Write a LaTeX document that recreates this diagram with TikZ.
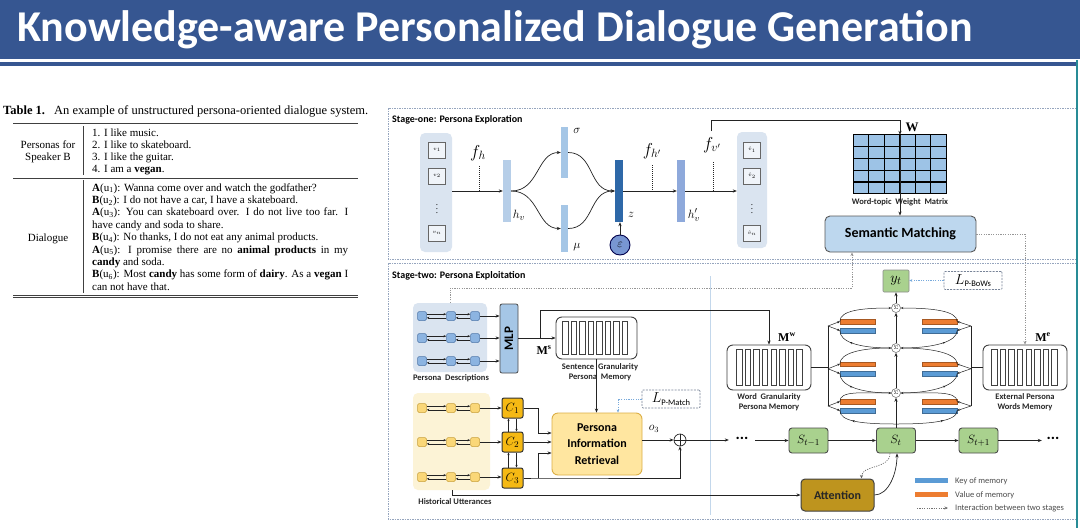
\documentclass[tikz,border=0pt]{standalone}
\usepackage{fontspec}
\setmainfont{Liberation Serif}
\newfontfamily\calib{Carlito}
\usetikzlibrary{arrows.meta,calc,decorations.markings}
\definecolor{titleblue}{RGB}{54,86,145}
\definecolor{tealline}{RGB}{40,140,150}
\definecolor{framec}{RGB}{150,165,190}
\definecolor{panelb}{RGB}{218,228,240}
\definecolor{panely}{RGB}{252,243,214}
\definecolor{smblue}{RGB}{189,215,238}
\definecolor{matblue}{RGB}{157,195,230}
\definecolor{hvone}{RGB}{182,206,232}
\definecolor{sigc}{RGB}{165,198,230}
\definecolor{zc}{RGB}{46,104,168}
\definecolor{hvtwo}{RGB}{142,169,219}
\definecolor{epsc}{RGB}{120,150,210}
\definecolor{pirfill}{RGB}{255,230,160}
\definecolor{pirdraw}{RGB}{220,175,70}
\definecolor{cgold}{RGB}{245,185,20}
\definecolor{sgreen}{RGB}{169,209,142}
\definecolor{attc}{RGB}{190,148,30}
\definecolor{valc}{RGB}{237,125,49}
\definecolor{keyc}{RGB}{91,155,213}
\definecolor{dotc}{RGB}{150,150,150}
\definecolor{lossc}{RGB}{120,170,220}
\definecolor{sepc}{RGB}{195,215,235}
\definecolor{linec}{RGB}{35,35,35}
\definecolor{sqb}{RGB}{140,180,225}
\definecolor{sqbd}{RGB}{80,120,170}
\definecolor{sqy}{RGB}{250,215,120}
\definecolor{sqyd}{RGB}{200,160,60}
\newcommand\memslots[4]{\foreach \i in {0,...,7}{\draw[black!75,line width=0.6pt] ($(#1.west)+(#2+\i*#3,-#4)$) rectangle ++(5.4,2*#4);}}
\newcommand\bigdots{{\calib\bfseries\fontsize{16}{16}\selectfont...}}
\begin{document}
\begin{tikzpicture}[x=1pt,y=-1pt,
  ln/.style={draw=linec,line width=0.7pt},
  arr/.style={ln,-{Stealth[length=4pt,width=3.2pt]}},
  sarr/.style={draw=linec,line width=0.5pt,-{Stealth[length=2.6pt,width=2.2pt]}},
  dashv/.style={draw=linec,line width=0.5pt,dash pattern=on 1pt off 1pt},
  dotl/.style={draw=dotc,line width=0.6pt,dash pattern=on 1.2pt off 1.2pt},
  dotarr/.style={dotl,-{Stealth[length=3.5pt,width=3pt]}},
  lossarr/.style={draw=lossc,line width=0.6pt,dash pattern=on 1.2pt off 1.2pt,-{Stealth[length=3pt,width=2.6pt]}},
  stageframe/.style={draw=framec,line width=0.6pt,dash pattern=on 1.5pt off 1pt},
  tab/.style={anchor=base west,inner sep=0,font=\fontsize{11}{12}\selectfont},
  tabc/.style={anchor=base,inner sep=0,font=\fontsize{11}{12}\selectfont},
  lab/.style={font=\calib\bfseries\fontsize{8.5}{9.5}\selectfont,text=black!85,align=center,inner sep=0},
  bar/.style={inner sep=0,minimum width=8,minimum height=62},
  vbox/.style={draw=black!60,fill=white!60!panelb,minimum width=17,minimum height=16,inner sep=0,font=\fontsize{5.5}{5.5}\selectfont},
  panel/.style={rounded corners=5pt,inner sep=0},
  sq/.style={minimum size=9,inner sep=0,rounded corners=1.5pt,line width=0.5pt},
  cbox/.style={draw=black!80,fill=cgold,line width=1pt,rounded corners=2pt,minimum width=21,minimum height=20,inner sep=0,font=\fontsize{13}{13}\selectfont},
  sbox/.style={draw=black!70,fill=sgreen,line width=0.9pt,rounded corners=3pt,minimum width=39,minimum height=25,inner sep=0,font=\fontsize{13}{13}\selectfont},
  mem/.style={draw=black!75,fill=white,line width=0.9pt,rounded corners=6pt,inner sep=0},
  kbar/.style={fill=keyc,draw=keyc!70!black,line width=0.3pt,inner sep=0,minimum width=35,minimum height=4.5},
  vbar/.style={fill=valc,draw=valc!70!black,line width=0.3pt,inner sep=0,minimum width=35,minimum height=4.5},
  sumc/.style={circle,draw=black!60,fill=white,line width=0.5pt,minimum size=9,inner sep=0},
  lossbox/.style={draw=framec!80!black,dash pattern=on 2pt off 1.2pt,line width=0.7pt,rounded corners=1pt,minimum width=58,minimum height=18,inner sep=0},
  midarr/.style={postaction={decorate},decoration={markings,mark=at position #1 with {\arrow{Stealth[length=2.6pt,width=2.2pt]}}}},
  mlab/.style={font=\fontsize{17}{17}\selectfont,inner sep=0}
]
\useasboundingbox (0,0) rectangle (1080,528);
\fill[white] (0,0) rectangle (1080,528);
% ---------- title ----------
\fill[titleblue] (0,0) rectangle (1080,59);
\fill[titleblue] (0,61.5) rectangle (1080,66);
\node[anchor=base west,inner sep=0,text=white,font=\calib\bfseries\fontsize{44}{44}\selectfont] (title) at (17,41.5) {Knowledge-aware Personalized Dialogue Generation};
% ---------- table ----------
\node[anchor=base west,inner sep=0,font=\fontsize{12.5}{13}\selectfont] (cap) at (3,114) {\textbf{Table 1.}\hspace{9pt}An example of unstructured persona-oriented dialogue system.};
\draw[black!75,line width=0.8pt] (13,123) -- (358,123);
\draw[black!75,line width=0.6pt] (13,178) -- (358,178);
\draw[black!75,line width=0.6pt] (13,295) -- (358,295);
\draw[black!75,line width=0.6pt] (13,297.5) -- (358,297.5);
\draw[black!75,line width=0.6pt] (83.5,126) -- (83.5,175);
\draw[black!75,line width=0.6pt] (83.5,180) -- (83.5,293);
\node[tabc] (lpa) at (48,148) {Personas for};
\node[tabc] (lpb) at (48,160) {Speaker B};
\node[tabc] (ldg) at (48,241) {Dialogue};
\node[tab] (p1) at (92,136) {1. I like music.};
\node[tab] (p2) at (92,148) {2. I like to skateboard.};
\node[tab] (p3) at (92,160) {3. I like the guitar.};
\node[tab] (p4) at (92,172) {4. I am a \textbf{vegan}.};
\node[tab] (d1) at (92,191) {\textbf{A}(u\textsubscript{1}): Wanna come over and watch the godfather?};
\node[tab] (d2) at (92,203.4) {\textbf{B}(u\textsubscript{2}): I do not have a car, I have a skateboard.};
\node[tab] (d3) at (92,215.8) {\makebox[256pt][s]{\textbf{A}(u\textsubscript{3}): You can skateboard over. I do not live too far. I}};
\node[tab] (d4) at (92,228.2) {have candy and soda to share.};
\node[tab] (d5) at (92,240.6) {\textbf{B}(u\textsubscript{4}): No thanks, I do not eat any animal products.};
\node[tab] (d6) at (92,253) {\makebox[256pt][s]{\textbf{A}(u\textsubscript{5}): I promise there are no \textbf{animal products} in my}};
\node[tab] (d7) at (92,265.4) {\textbf{candy} and soda.};
\node[tab] (d8) at (92,277.8) {\makebox[256pt][s]{\textbf{B}(u\textsubscript{6}): Most \textbf{candy} has some form of \textbf{dairy}. As a \textbf{vegan} I}};
\node[tab] (d9) at (92,290.2) {can not have that.};
% ---------- frames ----------
\draw[stageframe] (388,108) rectangle (1076,259);
\draw[stageframe] (388,263) rectangle (1076,519);
\draw[sepc,line width=0.6pt] (710,276) -- (710,515);
\node[anchor=base west,inner sep=0,font=\calib\bfseries\fontsize{10}{10}\selectfont] (st1) at (392,122) {Stage-one: Persona Exploration};
\node[anchor=base west,inner sep=0,font=\calib\bfseries\fontsize{10}{10}\selectfont] (st2) at (392,278) {Stage-two: Persona Exploitation};
% ---------- stage one ----------
\node[panel,fill=panelb,minimum width=32,minimum height=119] (vin) at (436,192.5) {};
\node[vbox] (v1) at (437,150) {$v_1$};
\node[vbox] (v2) at (437,176) {$v_2$};
\node[font=\fontsize{9}{9}\selectfont,inner sep=0] (vd) at (437,206) {$\vdots$};
\node[vbox] (vn) at (437,233) {$v_n$};
\node[bar,fill=hvone] (hv) at (507,191) {};
\draw[arr] (vin.east |- hv.west) -- (hv.west);
\node[mlab] (fh) at (478,153) {$f_h$};
\draw[dashv] (479,166) -- (479,191);
\node[inner sep=0,font=\fontsize{13}{13}\selectfont] (hvl) at (519,215) {$h_v$};
\node[inner sep=0,minimum width=7,minimum height=51,fill=sigc] (sig) at (564.5,152.5) {};
\node[inner sep=0,minimum width=7,minimum height=47,fill=sigc] (mu) at (564.5,228.5) {};
\node[inner sep=0,font=\fontsize{13}{13}\selectfont] (sigl) at (577,131) {$\sigma$};
\node[inner sep=0,font=\fontsize{13}{13}\selectfont] (mul) at (577,247) {$\mu$};
\draw[arr] (hv.east) .. controls +(28,0) and +(-24,0) .. (sig.west);
\draw[arr] (hv.east) .. controls +(28,0) and +(-24,0) .. (mu.west);
\node[bar,fill=zc] (z) at (619,191) {};
\draw[arr] (sig.east) .. controls +(26,0) and +(-26,0) .. (z.west);
\draw[arr] (mu.east) .. controls +(26,0) and +(-26,0) .. (z.west);
\node[inner sep=0,font=\fontsize{13}{13}\selectfont] (zl) at (631,215) {$z$};
\node[circle,draw=black!70!blue,fill=epsc,line width=0.9pt,minimum size=20,inner sep=0,font=\fontsize{13}{13}\selectfont] (eps) at (620,245) {$\varepsilon$};
\draw[arr] (eps.north) -- (eps.north |- z.south);
\node[bar,fill=hvtwo] (hv2) at (681,191) {};
\draw[arr] (z.east) -- (hv2.west);
\node[mlab] (fhp) at (652,151) {$f_{h'}$};
\draw[dashv] (652,165) -- (652,191);
\node[inner sep=0,font=\fontsize{13}{13}\selectfont] (hv2l) at (694,215) {$h'_v$};
\node[panel,fill=panelb,minimum width=30,minimum height=116] (vout) at (752,190) {};
\node[vbox] (w1) at (752,150) {$\hat{v}_1$};
\node[vbox] (w2) at (752,176) {$\hat{v}_2$};
\node[font=\fontsize{9}{9}\selectfont,inner sep=0] (wd) at (752,206) {$\vdots$};
\node[vbox] (wn) at (752,233) {$\hat{v}_n$};
\draw[arr] (hv2.east) -- (vout.west |- hv2.east);
\node[mlab] (fv) at (712,145) {$f_{v'}$};
\draw[dashv] (713,162) -- (713,191);
% matrix
\node[fill=matblue,minimum width=93,minimum height=59,inner sep=0] (W) at (900,164.5) {};
\foreach \i in {0,...,6}{\draw[black,line width=1.1pt] ($(W.north west)+(\i*15.5,0)$) -- ($(W.south west)+(\i*15.5,0)$);}
\foreach \j in {0,...,5}{\draw[black,line width=1.1pt] ($(W.north west)+(0,\j*11.8)$) -- ($(W.north east)+(0,\j*11.8)$);}
\coordinate (fvtop) at (711,131);
\coordinate (wtop) at (900,120);
\draw[arr] (fvtop) |- (wtop) -- (W.north);
\draw[ln] (W.north) -- (W.south);
\node[inner sep=0,font=\bfseries\fontsize{13}{13}\selectfont] (Wl) at (912,127) {W};
\node[lab] (wtl) at (900,202) {Word-topic\ \ Weight\ \ Matrix};
\node[rounded corners=5pt,draw=black!65,fill=smblue,line width=0.9pt,minimum width=151,minimum height=36,font=\calib\bfseries\fontsize{14}{14}\selectfont] (sm) at (900.5,234) {Semantic Matching};
\draw[arr] (W.south) -- (sm.north -| W.south);
% ---------- stage two ----------
\node[panel,fill=panelb,minimum width=74,minimum height=69] (pdp) at (450,337.5) {};
\node[rounded corners=2pt,draw=black!70,fill=sigc,line width=0.8pt,minimum width=18,minimum height=69,inner sep=0] (mlp) at (509,338.5) {};
\node[rotate=90,inner sep=0,font=\calib\bfseries\fontsize{13}{13}\selectfont] (mlpt) at (mlp) {MLP};
\foreach \r/\y in {1/316,2/338,3/361}{
  \node[sq,fill=sqb,draw=sqbd] (pa\r) at (422,\y) {};
  \node[sq,fill=sqb,draw=sqbd] (pb\r) at (451,\y) {};
  \node[sq,fill=sqb,draw=sqbd] (pc\r) at (475,\y) {};
  \draw[sarr] ($(pa\r.east)+(0,-1.8)$) -- ($(pb\r.west)+(0,-1.8)$);
  \draw[sarr] ($(pb\r.west)+(0,1.8)$) -- ($(pa\r.east)+(0,1.8)$);
  \draw[sarr] ($(pb\r.east)+(0,-1.8)$) -- ($(pc\r.west)+(0,-1.8)$);
  \draw[sarr] ($(pc\r.west)+(0,1.8)$) -- ($(pb\r.east)+(0,1.8)$);
  \draw[arr] (pc\r.east) -- (mlp.west |- pc\r.east);
}
\node[lab] (pdl) at (451,378) {Persona\ \ Descriptions};
\node[mem,minimum width=81,minimum height=42] (sgm) at (596.5,338) {};
\memslots{sgm}{7}{8.5}{16.5}
\node[lab] (sgml) at (600,372) {Sentence\ \ Granularity\\Persona\ \ Memory};
\draw[arr] (mlp.east |- sgm.west) -- (sgm.west);
\node[inner sep=0,font=\bfseries\fontsize{12}{12}\selectfont] (Ms) at (544,350) {M\textsuperscript{s}};
\node[mem,minimum width=84,minimum height=45] (mw) at (769,367.5) {};
\memslots{mw}{10}{8.6}{18}
\node[lab] (mwl) at (769,402) {Word\ \ Granularity\\Persona Memory};
\node[inner sep=0,font=\bfseries\fontsize{12}{12}\selectfont] (Mw) at (787,337) {M\textsuperscript{w}};
\coordinate (br) at (540,339);
\coordinate (brt) at (540,310.5);
\draw[arr] (br) -- (brt) -| (mw.north);
\node[mem,minimum width=84,minimum height=45] (me) at (1025,367.5) {};
\memslots{me}{9}{8.6}{18}
\node[lab] (mel) at (1025,402) {External Persona\\Words Memory};
\node[inner sep=0,font=\bfseries\fontsize{12}{12}\selectfont] (Me) at (1043,337) {M\textsuperscript{e}};
% stage interaction
\coordinate (dj) at (852,288);
\draw[dotarr] (pdp.north) |- (dj) -- (sm.south -| dj);
\draw[dotarr] (sm.east) -| (me.north);
% historical utterances
\node[panel,fill=panely,minimum width=77,minimum height=97] (hup) at (451.5,441.5) {};
\node[cbox] (c1) at (512.5,408) {$C_1$};
\node[cbox] (c2) at (512.5,442) {$C_2$};
\node[cbox] (c3) at (512.5,478) {$C_3$};
\foreach \r/\y in {1/408,2/442,3/477}{
  \node[sq,fill=sqy,draw=sqyd] (ha\r) at (422,\y) {};
  \node[sq,fill=sqy,draw=sqyd] (hb\r) at (451,\y) {};
  \node[sq,fill=sqy,draw=sqyd] (hc\r) at (475,\y) {};
  \draw[sarr] ($(ha\r.east)+(0,-1.8)$) -- ($(hb\r.west)+(0,-1.8)$);
  \draw[sarr] ($(hb\r.west)+(0,1.8)$) -- ($(ha\r.east)+(0,1.8)$);
  \draw[sarr] ($(hb\r.east)+(0,-1.8)$) -- ($(hc\r.west)+(0,-1.8)$);
  \draw[sarr] ($(hc\r.west)+(0,1.8)$) -- ($(hb\r.east)+(0,1.8)$);
  \draw[arr] (hc\r.east) -- (c\r.west |- hc\r.east);
}
\draw[sarr] ($(c2.north)+(-4,0)$) -- ($(c1.south)+(-4,0)$);
\draw[sarr] ($(c1.south)+(4,0)$) -- ($(c2.north)+(4,0)$);
\draw[sarr] ($(c3.north)+(-4,0)$) -- ($(c2.south)+(-4,0)$);
\draw[sarr] ($(c2.south)+(4,0)$) -- ($(c3.north)+(4,0)$);
\node[lab] (hul) at (455,502) {Historical Utterances};
\node[rounded corners=6pt,draw=pirdraw,fill=pirfill,line width=0.9pt,minimum width=90,minimum height=62,inner sep=0,align=center,font=\calib\bfseries\fontsize{12}{16.5}\selectfont] (pir) at (597,444) {Persona\\Information\\Retrieval};
\draw[arr] (sgm.south) -- (pir.north -| sgm.south);
\coordinate (k1) at (538,408);
\coordinate (k3) at (538,478);
\draw[arr] (c1.east) -- (k1) |- ($(pir.west)+(0,-11)$);
\draw[arr] (c2.east) -- (c2.east -| pir.west);
\draw[arr] (k3) |- ($(pir.west)+(0,9)$);
\node[lossbox] (lpm) at (671,399) {{\fontsize{15}{15}\selectfont$L$}\raisebox{-2.5pt}{\calib\fontsize{8.5}{8.5}\selectfont P-Match}};
\draw[lossarr] (lpm.west) -| ($(pir.north)+(21,0)$);
\node[circle,draw=linec,line width=0.7pt,minimum size=12,inner sep=0] (op) at (680,440) {};
\draw[linec,line width=0.6pt] (op.north) -- (op.south) (op.west) -- (op.east);
\draw[arr] (pir.east |- op.west) -- (op.west);
\node[inner sep=0,font=\fontsize{12}{12}\selectfont] (o3) at (654,429) {$o_3$};
\draw[arr] (c3.east) -- (k3) -| (op.south);
% decoder chain
\node[minimum width=26,inner sep=0] (dots1) at (742,438) {\bigdots};
\node[sbox] (sm1) at (808.5,440.5) {$S_{t-1}$};
\node[sbox] (st) at (896,440.5) {$S_t$};
\node[sbox] (sp1) at (978.5,440.5) {$S_{t+1}$};
\node[minimum width=22,inner sep=0] (dots2) at (1053,438) {\bigdots};
\draw[arr] (op.east) -- (dots1.west |- op.east);
\draw[arr] (dots1.east |- sm1.west) -- (sm1.west);
\draw[arr] (sm1.east) -- (st.west);
\draw[arr] (st.east) -- (sp1.west);
\draw[arr] (sp1.east) -- (dots2.west |- sp1.east);
\node[rounded corners=4pt,draw=black!75,fill=attc,line width=1pt,minimum width=73,minimum height=32,font=\calib\bfseries\fontsize{12}{12}\selectfont,text=black!85] (att) at (837.5,495) {Attention};
\draw[arr] ($(hup.south)+(0.5,0)$) |- (att.west);
\draw[dotarr,draw=black!60] ($(st.south)+(-6,0)$) .. controls +(0,16) and +(0,-14) .. ($(att.north)+(24,0)$);
\draw[arr] (att.east) .. controls +(14,0) and +(0,20) .. ($(st.south)+(1,0)$);
% memory hops
\node[sumc] (s1) at (896,308) {\fontsize{4}{4}\selectfont$\Sigma$};
\node[sumc] (s2) at (896,348) {\fontsize{4}{4}\selectfont$\Sigma$};
\node[sumc] (s3) at (896,393) {\fontsize{4}{4}\selectfont$\Sigma$};
\node[rounded corners=1pt,draw=black!45,fill=sgreen,line width=0.6pt,minimum width=26,minimum height=22,inner sep=0,font=\fontsize{15}{15}\selectfont] (yt) at (896,281) {$y_t$};
\node[lossbox] (lbw) at (973,280.5) {{\fontsize{15}{15}\selectfont$L$}\raisebox{-2.5pt}{\calib\fontsize{8.5}{8.5}\selectfont P-BoWs}};
\draw[lossarr] (lbw.west) -- (yt.east |- lbw.west);
\coordinate (q3) at (896,424);
\draw[arr] (st.north) -- (s3.south);
\draw[arr] (s3.north) -- (s2.south);
\draw[arr] (s2.north) -- (s1.south);
\draw[arr] (s1.north) -- (yt.south);
\foreach \k/\yo/\yb/\ym/\nx in {1/321.5/330.5/326/s2.west,2/364/373.5/368.75/s3.west,3/401.5/410.5/406/q3}{
  \node[vbar] (lo\k) at (857.5,\yo) {};
  \node[kbar] (lb\k) at (857.5,\yb) {};
  \node[vbar] (ro\k) at (939.5,\yo) {};
  \node[kbar] (rb\k) at (939.5,\yb) {};
  \coordinate (lv\k) at (828,\ym);
  \coordinate (rv\k) at (971,\ym);
  \draw[sarr] (lv\k) -- (lo\k.west);
  \draw[sarr] (lv\k) -- (lb\k.west);
  \draw[sarr] (rv\k) -- (ro\k.east);
  \draw[sarr] (rv\k) -- (rb\k.east);
  \draw[sarr] (lo\k.west) .. controls +(0,-11) and +(-30,0) .. (s\k.west);
  \draw[sarr] (ro\k.east) .. controls +(0,-11) and +(30,0) .. (s\k.east);
  \draw[draw=linec,line width=0.5pt,midarr=0.72] (\nx) .. controls +(-34,0) and +(0,11) .. (lb\k.west);
}
\draw[draw=linec,line width=0.5pt,midarr=0.72] (s2.east) .. controls +(34,0) and +(0,11) .. (rb1.east);
\draw[draw=linec,line width=0.5pt,midarr=0.72] (s3.east) .. controls +(34,0) and +(0,11) .. (rb2.east);
\draw[draw=linec,line width=0.5pt,midarr=0.72] (q3) .. controls +(34,0) and +(0,11) .. (rb3.east);
\draw[ln,line width=0.6pt] (lv1) -- (lv3);
\draw[ln,line width=0.6pt] (rv1) -- (rv3);
\draw[ln,line width=0.6pt] (mw.east) -- (mw.east -| lv2);
\draw[ln,line width=0.6pt] (rv2 |- me.west) -- (me.west);
% legend
\node[fill=keyc,minimum width=33,minimum height=5,inner sep=0] (lgk) at (931.5,480.5) {};
\node[fill=valc,minimum width=33,minimum height=5,inner sep=0] (lgv) at (931.5,494.5) {};
\coordinate (lgd1) at (917,508);
\coordinate (lgd2) at (948,508);
\draw[dotarr,draw=black!55] (lgd1) -- (lgd2);
\node[anchor=west,inner sep=0,font=\calib\fontsize{8.5}{8.5}\selectfont,text=black!70] (lgkt) at (955,481) {Key of memory};
\node[anchor=west,inner sep=0,font=\calib\fontsize{8.5}{8.5}\selectfont,text=black!70] (lgvt) at (955,495) {Value of memory};
\node[anchor=west,inner sep=0,font=\calib\fontsize{8.5}{8.5}\selectfont,text=black!70] (lgdt) at (955,508) {Interaction between two stages};
% right edge
\fill[white] (1078,60) rectangle (1080,528);
\draw[tealline,line width=2pt] (1077,60) -- (1077,528);
\end{tikzpicture}
\end{document}
